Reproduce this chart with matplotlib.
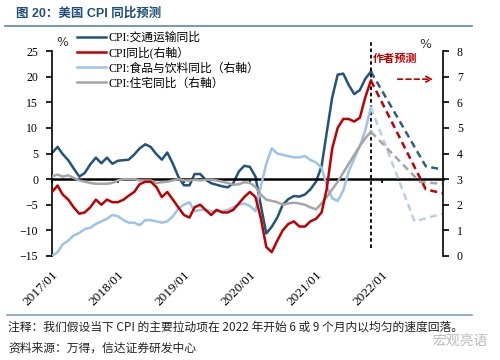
import pandas as pd
import numpy as np
import matplotlib.pyplot as plt
from matplotlib.lines import Line2D

plt.rcParams['font.family'] = ['Liberation Serif', 'Noto Sans CJK SC']

# monthly data, 2017/01 - 2021/11
months = pd.date_range('2017-01-01', '2021-11-01', freq='MS')

# CPI: transport yoy (left axis)
transport = [5.1, 6.3, 4.9, 3.7, 2.1, 0.5, 1.2, 2.9, 4.2, 3.1, 4.2, 3.0,
             3.6, 3.7, 3.8, 4.8, 6.0, 6.8, 6.3, 4.9, 3.8, 5.2, 3.0, 0.5,
             -1.2, -1.2, 1.0, 1.0, -0.1, -0.8, -1.1, -1.4, -1.6, -0.8, 1.5, 2.6,
             2.4, 0.5, -5.0, -10.6, -9.3, -7.5, -5.0, -3.9, -3.3, -3.4, -3.0, -2.0,
             -0.5, 2.5, 9.0, 16.0, 20.4, 20.6, 18.4, 16.6, 17.4, 19.6, 21.0]
# CPI yoy (right axis)
cpi = [2.5, 2.75, 2.4, 2.2, 1.9, 1.65, 1.7, 1.9, 2.2, 2.0, 2.2, 2.1,
       2.1, 2.2, 2.35, 2.5, 2.8, 2.9, 2.9, 2.7, 2.3, 2.5, 2.2, 1.9,
       1.6, 1.5, 1.9, 2.0, 1.8, 1.6, 1.8, 1.7, 1.7, 1.8, 2.05, 2.3,
       2.5, 2.3, 1.5, 0.35, 0.15, 0.6, 1.0, 1.25, 1.35, 1.15, 1.15, 1.35,
       1.45, 1.7, 2.6, 4.2, 5.0, 5.35, 5.35, 5.25, 5.4, 6.2, 6.85]
# CPI: food & beverages yoy (right axis)
food = [0.0, 0.15, 0.45, 0.6, 0.8, 0.9, 1.05, 1.1, 1.25, 1.35, 1.45, 1.6,
        1.55, 1.4, 1.3, 1.3, 1.2, 1.4, 1.4, 1.35, 1.3, 1.35, 1.55, 1.85,
        2.0, 2.1, 1.75, 1.8, 1.8, 1.75, 1.75, 1.75, 1.8, 1.9, 2.0, 2.05,
        1.95, 1.75, 2.7, 3.6, 4.2, 4.0, 3.95, 3.9, 3.85, 3.85, 3.9, 3.75,
        3.65, 3.45, 2.75, 2.25, 2.15, 2.55, 3.3, 3.8, 4.3, 4.9, 5.8]
# CPI: housing yoy (right axis)
housing = [3.1, 3.18, 3.1, 3.15, 3.05, 2.95, 2.9, 2.85, 2.82, 2.82, 2.82, 2.85,
           2.95, 3.0, 3.0, 3.0, 2.95, 2.95, 2.95, 2.85, 2.88, 2.9, 2.95, 3.0,
           2.95, 2.95, 2.98, 2.95, 2.98, 2.98, 2.95, 2.9, 2.85, 2.78, 2.8, 2.88,
           2.85, 2.7, 2.4, 2.2, 2.15, 2.1, 2.0, 2.05, 2.08, 2.05, 2.0, 1.9,
           1.82, 2.05, 2.3, 2.6, 2.9, 3.25, 3.6, 3.95, 4.3, 4.6, 4.85]

# author forecast (dashed)
transport_fc_dates = pd.to_datetime(['2021-11-01', '2022-09-01', '2022-12-01'])
transport_fc = [21.0, 2.5, 1.9]
cpi_fc_dates = pd.to_datetime(['2021-11-01', '2022-09-01', '2022-12-01'])
cpi_fc = [6.85, 2.6, 2.45]
food_fc_dates = pd.to_datetime(['2021-11-01', '2022-07-01', '2022-12-01'])
food_fc = [5.8, 1.35, 1.65]
housing_fc_dates = pd.to_datetime(['2021-11-01', '2022-08-01', '2022-12-01'])
housing_fc = [4.85, 2.88, 2.82]

forecast_start = pd.Timestamp('2021-11-01')
tick_dates = pd.date_range('2017-01-01', '2022-01-01', freq='YS')
tick_labels = ['2017/01', '2018/01', '2019/01', '2020/01', '2021/01', '2022/01']

c_trans = '#23527C'
c_trans_fc = '#2D5F7F'
c_cpi = '#C00000'
c_food = '#9DC3E6'
c_food_fc = '#B9CFE6'
c_house = '#A5A5A5'
dash = (0, (2.8, 1.8))

fig = plt.figure(figsize=(5, 3.6), dpi=100)
ax = fig.add_axes([0.104, 0.289, 0.782, 0.569])
ax2 = ax.twinx()

l1, = ax.plot(months, transport, color=c_trans, lw=1.8, label='CPI:交通运输同比')
ax.plot(transport_fc_dates, transport_fc, color=c_trans_fc, lw=1.8, ls=dash)

l3, = ax2.plot(months, food, color=c_food, lw=1.8, label='CPI:食品与饮料同比（右軸）')
ax2.plot(food_fc_dates, food_fc, color=c_food_fc, lw=1.8, ls=dash)
l4, = ax2.plot(months, housing, color=c_house, lw=1.8, label='CPI:住宅同比（右軸）')
ax2.plot(housing_fc_dates, housing_fc, color=c_house, lw=1.8, ls=dash)
l2, = ax2.plot(months, cpi, color=c_cpi, lw=1.8, label='CPI同比(右軸）')
ax2.plot(cpi_fc_dates, cpi_fc, color=c_cpi, lw=1.8, ls=dash)

ax.vlines(forecast_start, -13.5, 26.8, color='black', lw=1.3, ls=(0, (2, 1.5)),
          clip_on=False, zorder=5)

ax.set_xlim(pd.Timestamp('2017-01-01'), pd.Timestamp('2022-12-05'))
ax.set_ylim(-15, 25)
ax.set_yticks(range(-15, 30, 5))
ax2.set_ylim(0, 8)
ax2.set_yticks(range(0, 9))

for s in ['top', 'right']:
    ax.spines[s].set_visible(False)
for s in ['top', 'left', 'bottom']:
    ax2.spines[s].set_visible(False)
ax.spines['bottom'].set_position(('data', 0))
ax.spines['bottom'].set_linewidth(1.8)
ax.spines['left'].set_linewidth(1.2)
ax2.spines['right'].set_linewidth(1.2)

ax.set_xticks(tick_dates)
ax.tick_params(axis='x', direction='out', length=3, width=1.2, labelbottom=False)
ax.tick_params(axis='y', direction='out', length=4, width=1.2, labelsize=8.5, pad=6)
ax2.tick_params(axis='y', direction='out', length=4, width=1.2, labelsize=8.5, pad=6)

sec = ax.secondary_xaxis('bottom')
sec.set_xticks(tick_dates, labels=tick_labels)
sec.tick_params(length=0, labelsize=9.5, pad=9)
sec.spines['bottom'].set_visible(False)
for lab in sec.get_xticklabels():
    lab.set_rotation(45)
    lab.set_ha('right')
    lab.set_rotation_mode('anchor')

ax.text(0.026, 1.04, '%', transform=ax.transAxes, fontsize=9, ha='center', va='center',
        family=['DejaVu Sans'], color='#333333')
ax2.text(0.954, 1.03, '%', transform=ax2.transAxes, fontsize=9, ha='center', va='center',
         family=['DejaVu Sans'], color='#333333')

ax2.legend(handles=[l1, l2, l3, l4], loc='upper left', bbox_to_anchor=(0.065, 1.095),
           frameon=False, fontsize=8.5, handlelength=2.4, handletextpad=0.2,
           labelspacing=0.25, borderaxespad=0, borderpad=0)

ax2.text(0.821, 0.966, '作者预测', transform=ax2.transAxes, fontsize=8, color=c_cpi,
         fontweight='bold', ha='left', va='center', family=['Noto Sans CJK SC'])
ax2.annotate('', xy=(0.982, 0.863), xytext=(0.877, 0.863), xycoords='axes fraction',
             arrowprops=dict(arrowstyle='->', color=c_cpi, lw=1.2, ls=(0, (3, 2))))

fig.text(16 / 500, 1 - 14 / 360, '图 20：美国 CPI 同比预测', fontsize=9, fontweight='bold',
         color='#1F4E79', va='center', family=['Liberation Sans', 'Noto Sans CJK SC'])
fig.add_artist(Line2D([5 / 500, 472 / 500], [1 - 26 / 360] * 2, color='#5B86B0', lw=1.2))
fig.add_artist(Line2D([7 / 500, 472 / 500], [1 - 315 / 360] * 2, color='#7F9DBE', lw=1.2))

fig.text(8 / 500, 1 - 327 / 360,
         '注释：我们假设当下 CPI 的主要拉动项在 2022 年开始 6 或 9 个月内以均匀的速度回落。',
         fontsize=8.5, va='center', family=['Noto Sans CJK SC'], color='#222222')
fig.text(8 / 500, 1 - 348 / 360, '资料来源：万得，信达证券研发中心',
         fontsize=8.5, va='center', family=['Noto Sans CJK SC'], color='#222222')
fig.text(0.975, 1 - 342 / 360, '宏观亮语', fontsize=10, ha='right', va='center',
         family=['Noto Sans CJK SC'], color='#BBBBBB')

fig.savefig('out.png', dpi=100)
